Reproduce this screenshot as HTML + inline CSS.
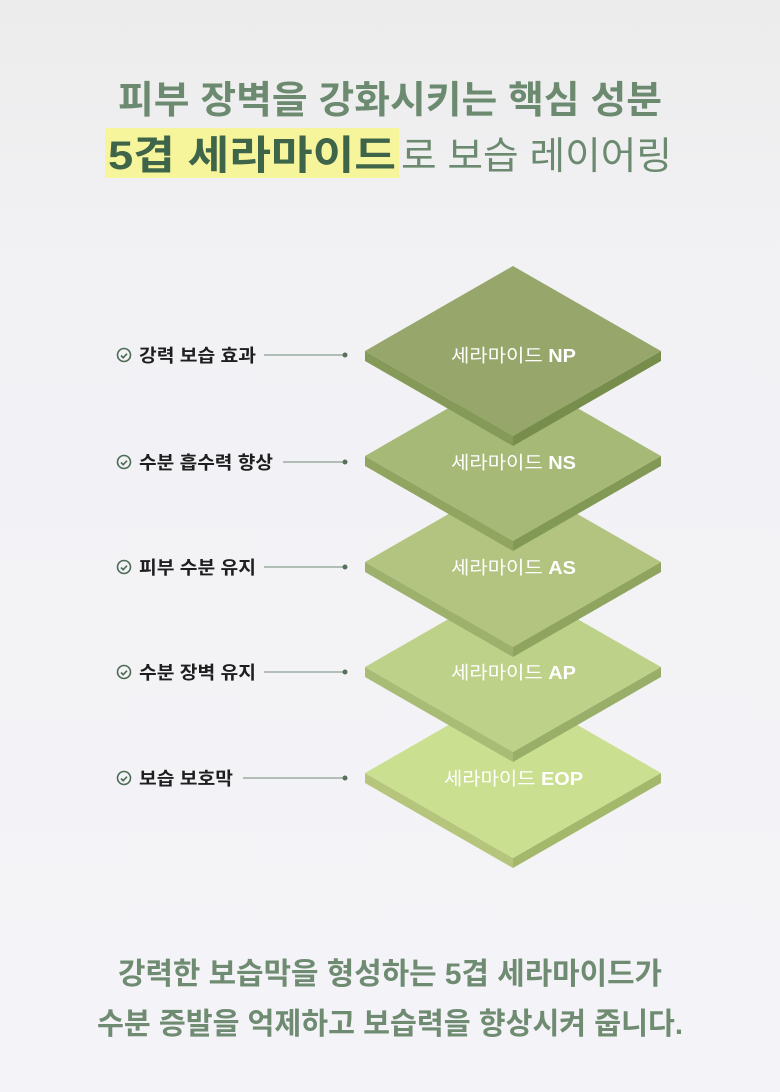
<!DOCTYPE html>
<html><head><meta charset="utf-8"><style>
html,body{margin:0;padding:0;}
body{width:780px;height:1092px;background:#f3f3f7;overflow:hidden;}
svg{display:block;}
text{font-family:"Liberation Sans","Noto Sans CJK KR",sans-serif;}
</style></head><body>
<svg width="780" height="1092" viewBox="0 0 780 1092" xmlns="http://www.w3.org/2000/svg">
<defs><linearGradient id="bg" x1="0" y1="0" x2="0" y2="1"><stop offset="0" stop-color="#ececec"/><stop offset="0.25" stop-color="#f2f2f5"/><stop offset="1" stop-color="#f4f4f8"/></linearGradient></defs>
<rect width="780" height="1092" fill="url(#bg)"/>
<text x="118" y="113" font-size="38" font-weight="700" fill="#6b8a6f" textLength="544" lengthAdjust="spacingAndGlyphs">피부 장벽을 강화시키는 핵심 성분</text>
<rect x="105" y="128" width="294" height="50" fill="#f7f59b"/>
<text x="108" y="169" font-size="40" font-weight="700" fill="#3e6549" textLength="288" lengthAdjust="spacingAndGlyphs">5겹 세라마이드</text>
<text x="401" y="169" font-size="38" fill="#6b8a6f" textLength="271" lengthAdjust="spacingAndGlyphs">로 보습 레이어링</text>

<g>
<polygon points="365,773 513,858 513,868 365,783" fill="#b5c67c"/><polygon points="513,858 661,773 661,783 513,868" fill="#a4b86c"/>
<polygon points="513,688 661,773 513,858 365,773" fill="#cbdf90"/>
<text x="444" y="785" font-size="18" fill="#fff" textLength="139" lengthAdjust="spacingAndGlyphs">세라마이드 <tspan font-weight="700">EOP</tspan></text>
</g>
<g>
<polygon points="365,667 513,752 513,762 365,677" fill="#a9bc76"/><polygon points="513,752 661,667 661,677 513,762" fill="#99ae68"/>
<polygon points="513,582 661,667 513,752 365,667" fill="#bed189"/>
<text x="451" y="679" font-size="18" fill="#fff" textLength="125" lengthAdjust="spacingAndGlyphs">세라마이드 <tspan font-weight="700">AP</tspan></text>
</g>
<g>
<polygon points="365,562 513,647 513,657 365,572" fill="#9db06c"/><polygon points="513,647 661,562 661,572 513,657" fill="#8ea45f"/>
<polygon points="513,477 661,562 513,647 365,562" fill="#b2c47f"/>
<text x="451" y="574" font-size="18" fill="#fff" textLength="125" lengthAdjust="spacingAndGlyphs">세라마이드 <tspan font-weight="700">AS</tspan></text>
</g>
<g>
<polygon points="365,456 513,541 513,551 365,466" fill="#91a561"/><polygon points="513,541 661,456 661,466 513,551" fill="#829955"/>
<polygon points="513,371 661,456 513,541 365,456" fill="#a6b977"/>
<text x="451" y="469" font-size="18" fill="#fff" textLength="125" lengthAdjust="spacingAndGlyphs">세라마이드 <tspan font-weight="700">NS</tspan></text>
</g>
<g>
<polygon points="365,351 513,436 513,446 365,361" fill="#859a58"/><polygon points="513,436 661,351 661,361 513,446" fill="#778d4c"/>
<polygon points="513,266 661,351 513,436 365,351" fill="#97a76b"/>
<text x="451" y="362" font-size="18" fill="#fff" textLength="125" lengthAdjust="spacingAndGlyphs">세라마이드 <tspan font-weight="700">NP</tspan></text>
</g>

<g font-size="18" font-weight="700" fill="#1e1e1e">
<g stroke="#4d6a55" stroke-width="1.6" fill="none">
<circle cx="124" cy="355" r="6.5"/><path d="M121 355.5l2.2 2.2 3.8-4"/>
<circle cx="124" cy="462" r="6.5"/><path d="M121 462.5l2.2 2.2 3.8-4"/>
<circle cx="124" cy="567" r="6.5"/><path d="M121 567.5l2.2 2.2 3.8-4"/>
<circle cx="124" cy="672" r="6.5"/><path d="M121 672.5l2.2 2.2 3.8-4"/>
<circle cx="124" cy="778" r="6.5"/><path d="M121 778.5l2.2 2.2 3.8-4"/>
</g>
<text x="139" y="362" textLength="117" lengthAdjust="spacingAndGlyphs">강력 보습 효과</text>
<text x="139" y="469" textLength="134" lengthAdjust="spacingAndGlyphs">수분 흡수력 향상</text>
<text x="139" y="574" textLength="117" lengthAdjust="spacingAndGlyphs">피부 수분 유지</text>
<text x="139" y="679" textLength="117" lengthAdjust="spacingAndGlyphs">수분 장벽 유지</text>
<text x="139" y="785" textLength="94" lengthAdjust="spacingAndGlyphs">보습 보호막</text>
<g stroke="#6f8a75" stroke-width="1">
<line x1="264" y1="355" x2="345" y2="355"/>
<line x1="283" y1="462" x2="345" y2="462"/>
<line x1="264" y1="567" x2="345" y2="567"/>
<line x1="264" y1="672" x2="345" y2="672"/>
<line x1="243" y1="778" x2="345" y2="778"/>
</g>
<g fill="#56705c">
<circle cx="345" cy="355" r="2.5"/><circle cx="345" cy="462" r="2.5"/><circle cx="345" cy="567" r="2.5"/><circle cx="345" cy="672" r="2.5"/><circle cx="345" cy="778" r="2.5"/>
</g>
</g>

<text x="118" y="984" font-size="30" font-weight="700" fill="#6f8b72" textLength="544" lengthAdjust="spacingAndGlyphs">강력한 보습막을 형성하는 5겹 세라마이드가</text>
<text x="97" y="1034" font-size="30" font-weight="700" fill="#6f8b72" textLength="586" lengthAdjust="spacingAndGlyphs">수분 증발을 억제하고 보습력을 향상시켜 줍니다.</text>
</svg>
</body></html>
